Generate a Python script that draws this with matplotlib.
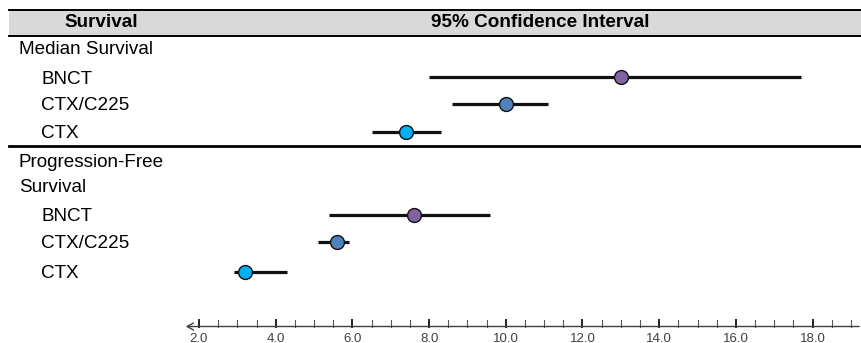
import matplotlib
matplotlib.use("Agg")
import matplotlib.pyplot as plt

plt.rcParams['font.family'] = ['Liberation Sans', 'DejaVu Sans']

# ---- data ----
groups = ["Median Survival", "Progression-Free\nSurvival"]
treatments = ["BNCT", "CTX/C225", "CTX"]
median_est = [13.0, 10.0, 7.4]
median_lo = [8.0, 8.6, 6.5]
median_hi = [17.7, 11.1, 8.3]
pfs_est = [7.6, 5.6, 3.2]
pfs_lo = [5.4, 5.1, 2.9]
pfs_hi = [9.6, 5.9, 4.3]
colors = ["#8064a2", "#4f81bd", "#00b0f0"]
major_ticks = [2.0, 4.0, 6.0, 8.0, 10.0, 12.0, 14.0, 16.0, 18.0]
tick_labels = ["2.0", "4.0", "6.0", "8.0", "10.0", "12.0", "14.0", "16.0", "18.0"]

# ---- layout ----
W, H = 862, 343
PPU = 38.35          # pixels per unit
X2PX = 199           # pixel position of x = 2
x0 = 2 - X2PX / PPU
x1 = x0 + W / PPU

def px2x(px):
    return x0 + px / PPU

fig = plt.figure(figsize=(W / 100, H / 100), dpi=100)
ax = fig.add_axes([0, 0, 1, 1])
ax.set_xlim(x0, x1)
ax.set_ylim(H, 0)
ax.axis('off')

FS = 13.6

# header band
ax.fill_between([px2x(9), x1], 9.5, 36, color="#d9d9d9", zorder=0, lw=0)
ax.plot([px2x(9), x1], [9.5, 9.5], color="black", lw=1.4)
ax.plot([px2x(9), x1], [36, 36], color="black", lw=1.4)
ax.text(px2x(101), 27, "Survival", fontsize=FS, fontweight='bold', ha='center', va='baseline')
ax.text(px2x(540), 27, "95% Confidence Interval", fontsize=FS, fontweight='bold', ha='center', va='baseline')

# separator
ax.plot([px2x(9), x1], [146, 146], color="black", lw=2.0)

# group labels
ax.text(px2x(19), 54.5, groups[0], fontsize=FS, va='baseline')
ax.text(px2x(19), 167, "Progression-Free", fontsize=FS, va='baseline')
ax.text(px2x(19), 192, "Survival", fontsize=FS, va='baseline')

row_y_med = [77, 104, 131.5]
row_y_pfs = [214.5, 241.5, 271.5]

for ys, est, lo, hi in [(row_y_med, median_est, median_lo, median_hi),
                        (row_y_pfs, pfs_est, pfs_lo, pfs_hi)]:
    for i, t in enumerate(treatments):
        y = ys[i]
        ax.text(px2x(41.5), y + 6.5, t, fontsize=FS, va='baseline')
        ax.plot([lo[i], hi[i]], [y, y], color="#111111", lw=2.3, solid_capstyle='butt', zorder=2)
        ax.plot([est[i]], [y], marker='o', ms=10, mfc=colors[i], mec="#111111", mew=1.0, zorder=3)

# axis
axis_y = 326.5
ax.annotate("", xy=(px2x(183), axis_y), xytext=(x1, axis_y),
            arrowprops=dict(arrowstyle='->,head_length=0.45,head_width=0.25', color="#404040", lw=1.0))
minor = [2.0 + 0.5 * k for k in range(0, 36)]
for m in minor:
    if m in major_ticks:
        ax.plot([m, m], [axis_y, axis_y - 6.5], color="#222222", lw=1.4)
    else:
        ax.plot([m, m], [axis_y, axis_y - 6.5], color="#555555", lw=0.8)
for v, lab in zip(major_ticks, tick_labels):
    ax.text(v, 332.5, lab, fontsize=9.5, ha='center', va='top', color="#404040")

fig.savefig("out.png", dpi=100)
